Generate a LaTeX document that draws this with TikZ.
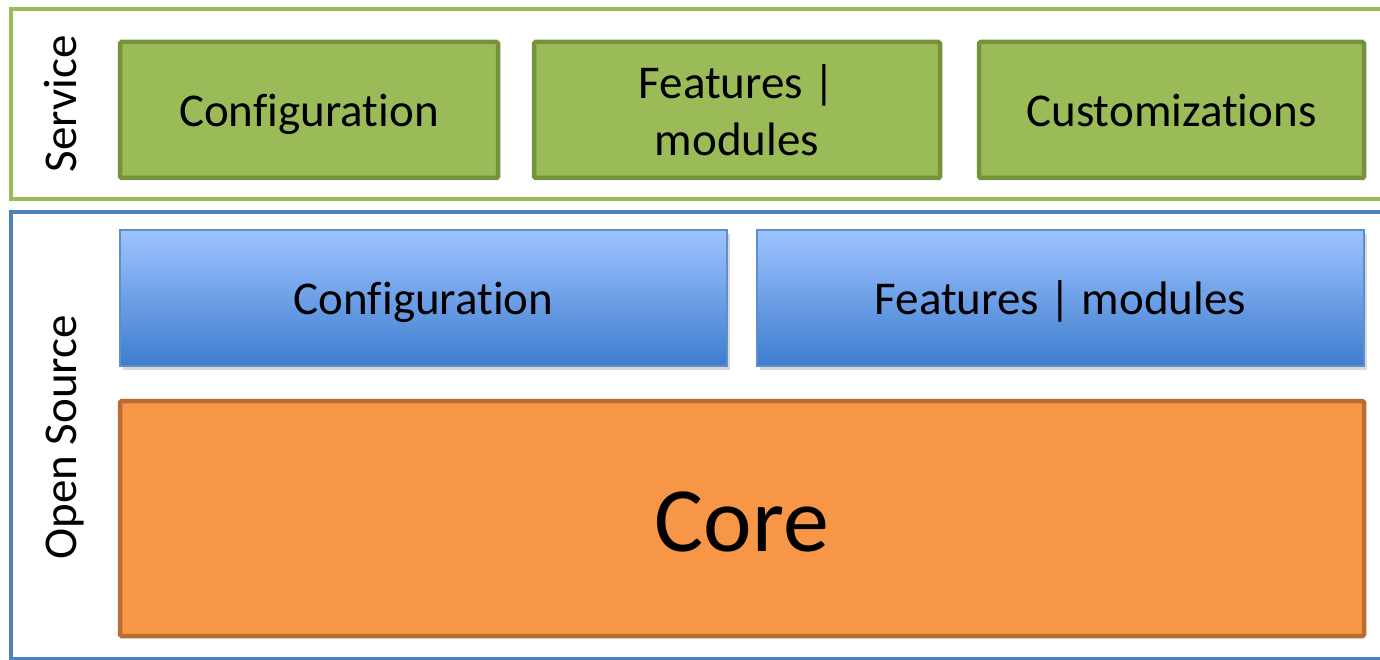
\documentclass[tikz,border=0pt]{standalone}
\usepackage{fontspec}
\setmainfont{Carlito}[Ligatures=NoCommon]
\usetikzlibrary{shadows}
\definecolor{svcgreen}{HTML}{9BBB59}
\definecolor{svcdark}{HTML}{76923C}
\definecolor{osblue}{HTML}{4F81BD}
\definecolor{btop}{HTML}{9EC3FF}
\definecolor{bbot}{HTML}{3D7DCE}
\definecolor{bborder}{HTML}{5E8FCB}
\definecolor{corefill}{HTML}{F79646}
\definecolor{coredark}{HTML}{B96D33}
\tikzset{
  lbl/.style={font=\fontsize{47}{57}\selectfont, inner sep=0pt, align=center},
  oneline/.style={text height=45.6pt, text depth=11.75pt},
  greenbox/.style={draw=svcdark, fill=svcgreen, line width=4.5pt, rounded corners=1.5pt,
    lbl, drop shadow={shadow xshift=2pt, shadow yshift=-2pt, opacity=0.25}},
  bluebox/.style={draw=bborder, line width=1.5pt, top color=btop, bottom color=bbot,
    lbl, oneline, drop shadow={shadow xshift=3pt, shadow yshift=-4pt, opacity=0.3}},
  corebox/.style={draw=coredark, fill=corefill, line width=4.5pt, rounded corners=1.5pt,
    font=\fontsize{92}{100}\selectfont, inner sep=0pt, text height=89pt, text depth=23pt,
    drop shadow={shadow xshift=2pt, shadow yshift=-2pt, opacity=0.25}},
  frame/.style={line width=4pt},
}
\begin{document}
\begin{tikzpicture}[x=1pt,y=-1pt]
\useasboundingbox (0,0) rectangle (1380,660);
\clip (0,0) rectangle (1380,660);
% outer frames
\draw[frame, draw=svcgreen] (11,9) rectangle (1400,199.5);
\draw[frame, draw=osblue] (11,212) rectangle (1400,659);
% side labels
\node[lbl, oneline, rotate=90] (svc) at (60,104) {Service};
\node[lbl, oneline, rotate=90] (os) at (60,437.5) {Open Source};
% service boxes
\node[greenbox, oneline, minimum width=378pt, minimum height=136pt] (sconf) at (309,110) {Configuration};
\node[greenbox, minimum width=406pt, minimum height=136pt] (sfeat) at (737,110) {Features |\\modules};
\node[greenbox, oneline, minimum width=385pt, minimum height=136pt] (scust) at (1171.5,110) {Customizations};
% open source boxes
\node[bluebox, minimum width=607pt, minimum height=136pt] (oconf) at (423.5,298) {Configuration};
\node[bluebox, minimum width=607pt, minimum height=136pt] (ofeat) at (1060.5,298) {Features | modules};
\node[corebox, minimum width=1244pt, minimum height=235pt] (core) at (742,518.5) {Core};
\end{tikzpicture}
\end{document}
